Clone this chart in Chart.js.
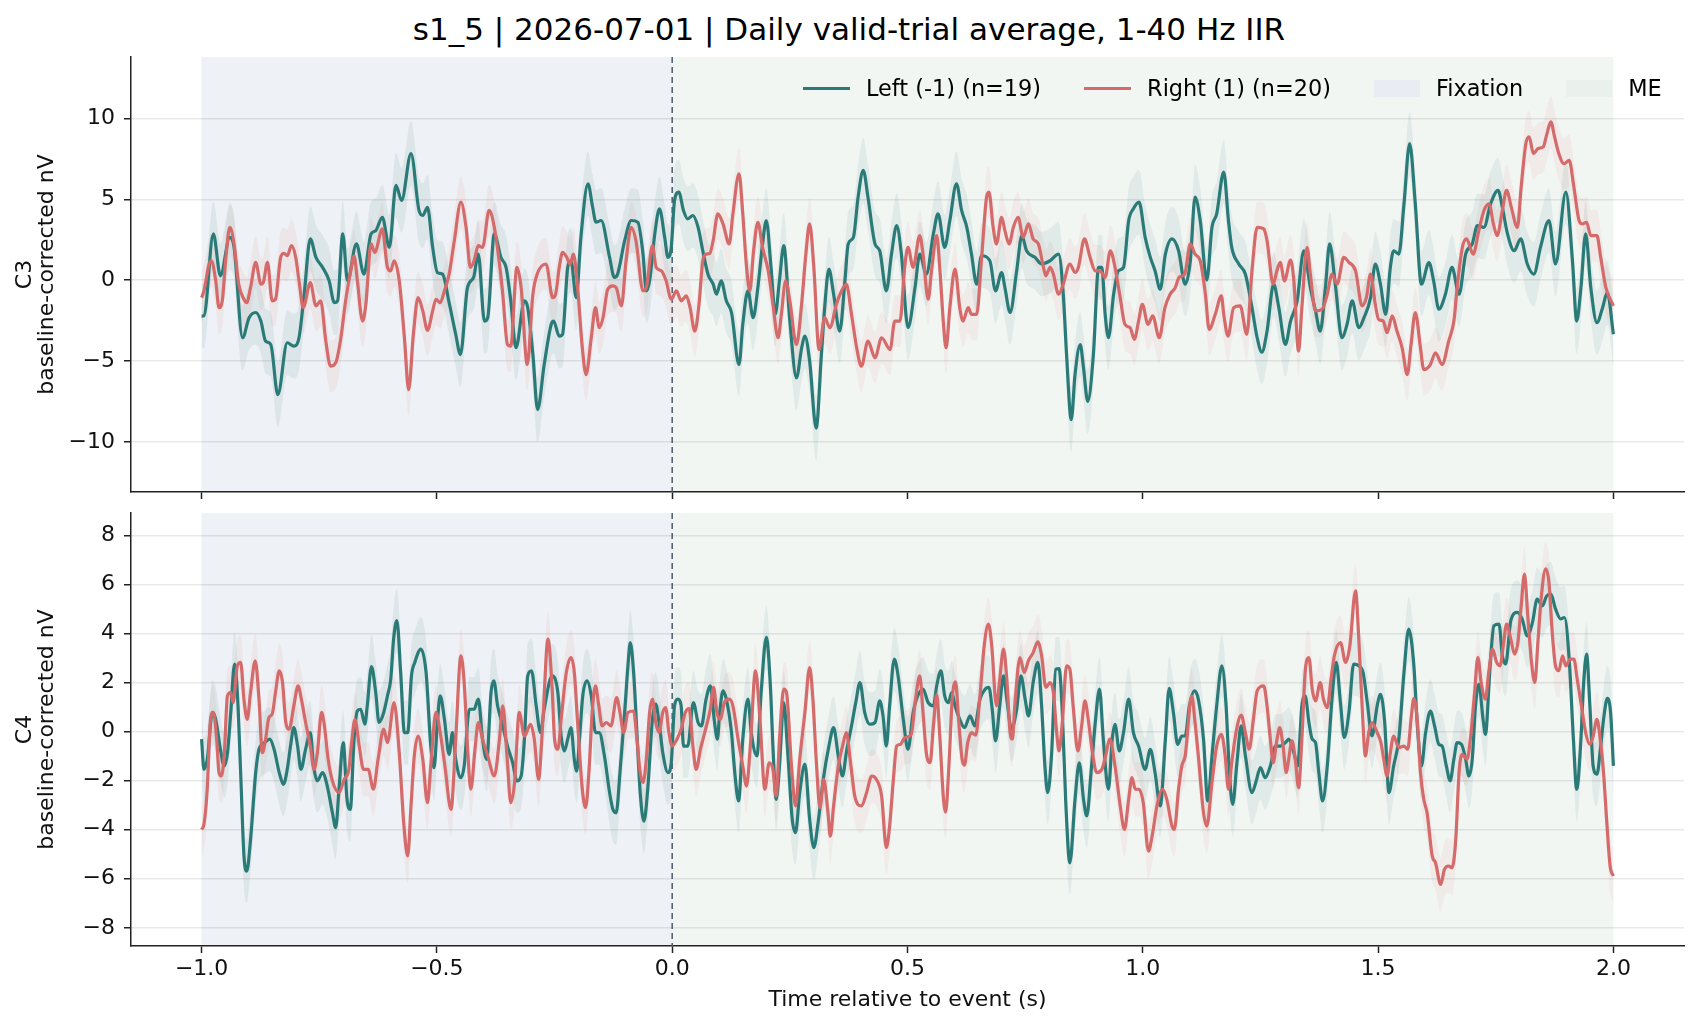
<!DOCTYPE html>
<html>
<head>
<meta charset="utf-8">
<title>s1_5 daily valid-trial average</title>
<script src="https://cdn.jsdelivr.net/npm/chart.js@4.4.1/dist/chart.umd.min.js"></script>
<style>
  html, body { margin: 0; padding: 0; background: #fff; }
  body { width: 1698px; height: 1026px; position: relative; overflow: hidden; font-family: 'DejaVu Sans', sans-serif; }
  #title { position: absolute; left: 0; top: 11px; width: 1698px; text-align: center; font-size: 31px; line-height: 36px; color: #000; }
  canvas { position: absolute; left: 0; }
  #c3 { top: 0; }
  #c4 { top: 488px; }
  #legend { position: absolute; left: 803px; top: 75px; width: max-content; white-space: nowrap; display: flex; align-items: center; font-size: 22.4px; line-height: 26px; color: #000; }
  #legend .item { display: flex; align-items: center; flex-shrink: 0; margin-right: 43px; }
  #legend .item:last-child { margin-right: 0; }
  #legend .line { width: 47px; height: 3px; margin-right: 16px; flex-shrink: 0; }
  #legend .patch { width: 46px; height: 17px; margin-right: 16px; flex-shrink: 0; }
</style>
</head>
<body>
<div id="title">s1_5 | 2026-07-01 | Daily valid-trial average, 1-40 Hz IIR</div>
<canvas id="c3" width="1698" height="515"></canvas>
<canvas id="c4" width="1698" height="538"></canvas>
<div id="legend"></div>
<script>
// ---------------------------------------------------------------------------
// Data: [time (s), amplitude (nV)] per condition/channel
// ---------------------------------------------------------------------------
const seriesLabels = ['Left (-1) (n=19)', 'Right (1) (n=20)'];
const seriesColors = ['#2a7a78', '#d46a6a'];
const bandColors = ['rgba(42, 122, 120, 0.09)', 'rgba(212, 106, 106, 0.08)'];

const spanLabels = ['Fixation', 'ME'];
const spanStart = [-1, 0];
const spanEnd = [0, 2];
const spanFill = ['#eef1f5', '#f2f6f3'];
const spanPatch = ['#e9edf3', '#e8f1ec'];
const eventTime = 0;

// SEM half-width of the shaded bands (nV), per series
const semC3 = [2.0, 1.6];
const semC4 = [1.3, 1.1];

const c3Left = [[-1.0,-2.22],[-0.995,-2.2],[-0.975,2.86],[-0.96,0.27],[-0.94,2.65],[-0.931,2.03],[-0.913,-3.56],[-0.899,-2.32],[-0.885,-2.0],[-0.874,-2.53],[-0.864,-3.77],[-0.853,-3.98],[-0.838,-7.08],[-0.818,-3.87],[-0.804,-4.08],[-0.793,-3.56],[-0.782,-0.87],[-0.769,2.55],[-0.757,1.41],[-0.743,0.79],[-0.729,-0.04],[-0.718,-1.39],[-0.711,-1.28],[-0.7,2.86],[-0.69,-0.04],[-0.671,2.24],[-0.655,0.37],[-0.64,2.86],[-0.63,3.06],[-0.616,3.89],[-0.601,2.03],[-0.587,5.86],[-0.575,4.93],[-0.555,7.83],[-0.538,4.31],[-0.53,4.0],[-0.52,4.51],[-0.509,2.03],[-0.499,0.48],[-0.488,0.37],[-0.474,-1.39],[-0.46,-3.35],[-0.45,-4.6],[-0.435,-0.46],[-0.422,0.17],[-0.412,1.61],[-0.399,-2.53],[-0.392,-2.32],[-0.378,2.86],[-0.364,1.41],[-0.353,0.79],[-0.343,-1.28],[-0.332,-4.18],[-0.314,-1.28],[-0.307,-1.7],[-0.296,-4.6],[-0.286,-8.01],[-0.272,-5.22],[-0.257,-2.73],[-0.252,-2.53],[-0.24,-3.46],[-0.233,-3.35],[-0.222,0.79],[-0.215,1.2],[-0.204,-1.08],[-0.194,2.65],[-0.179,5.96],[-0.169,4.51],[-0.162,3.58],[-0.151,3.69],[-0.133,1.41],[-0.123,0.17],[-0.116,0.37],[-0.101,2.44],[-0.087,3.69],[-0.073,3.58],[-0.062,1.61],[-0.055,-0.66],[-0.048,-0.04],[-0.037,2.86],[-0.027,4.41],[-0.016,2.65],[-0.009,1.41],[-0.002,2.03],[0.005,4.93],[0.014,5.45],[0.024,4.31],[0.033,3.79],[0.044,4.0],[0.055,3.27],[0.065,1.82],[0.076,0.37],[0.087,-0.25],[0.094,-0.87],[0.104,-0.04],[0.115,-1.28],[0.126,-2.0],[0.142,-5.22],[0.15,-2.73],[0.161,-0.66],[0.172,-2.32],[0.182,-0.46],[0.192,2.24],[0.2,3.69],[0.21,0.79],[0.219,-2.1],[0.228,0.0],[0.237,2.13],[0.25,-2.53],[0.264,-6.05],[0.275,-4.2],[0.282,-3.46],[0.292,-5.0],[0.306,-9.15],[0.317,-4.6],[0.324,-1.7],[0.333,0.68],[0.343,-0.87],[0.356,-3.15],[0.367,-0.04],[0.374,2.24],[0.385,2.65],[0.395,5.13],[0.406,6.79],[0.416,5.13],[0.431,2.24],[0.441,1.82],[0.455,-0.66],[0.466,1.61],[0.477,3.37],[0.487,1.61],[0.501,-2.94],[0.516,-0.46],[0.526,1.61],[0.54,0.37],[0.555,2.86],[0.565,4.1],[0.579,2.03],[0.59,3.69],[0.604,5.96],[0.615,4.31],[0.626,3.27],[0.636,1.61],[0.647,-0.25],[0.657,1.51],[0.675,1.2],[0.687,-0.66],[0.7,0.47],[0.707,-0.46],[0.718,-2.0],[0.732,0.58],[0.743,2.75],[0.753,1.82],[0.771,1.41],[0.785,1.0],[0.803,1.2],[0.821,1.61],[0.831,-0.87],[0.838,-4.6],[0.848,-8.63],[0.856,-5.84],[0.867,-3.98],[0.874,-5.42],[0.883,-7.5],[0.895,-4.6],[0.906,0.79],[0.913,0.79],[0.92,-2.11],[0.927,-3.56],[0.938,-0.87],[0.948,0.58],[0.959,0.79],[0.97,3.69],[0.98,4.41],[0.992,4.82],[1.005,2.65],[1.016,1.41],[1.026,0.58],[1.037,-0.56],[1.048,1.61],[1.062,2.55],[1.076,1.82],[1.09,-0.25],[1.101,1.2],[1.111,5.13],[1.122,3.69],[1.136,0.0],[1.147,3.27],[1.157,4.1],[1.172,6.69],[1.182,3.69],[1.189,2.03],[1.204,1.0],[1.218,0.37],[1.232,-1.7],[1.243,-3.56],[1.253,-4.45],[1.264,-3.15],[1.278,-0.25],[1.289,-1.7],[1.303,-3.98],[1.314,-2.53],[1.328,-1.28],[1.342,1.82],[1.356,-0.46],[1.367,-1.9],[1.377,-3.15],[1.388,-0.46],[1.397,2.24],[1.409,-0.25],[1.423,-3.56],[1.434,-2.73],[1.445,-1.28],[1.459,-2.94],[1.47,-2.32],[1.484,-1.08],[1.494,0.99],[1.505,-0.25],[1.516,-2.11],[1.526,0.79],[1.533,1.82],[1.544,1.61],[1.555,4.72],[1.567,8.45],[1.579,4.72],[1.592,-0.25],[1.608,1.09],[1.618,-0.04],[1.629,-1.8],[1.643,-0.87],[1.657,0.79],[1.672,-0.87],[1.686,1.61],[1.7,2.24],[1.711,3.37],[1.725,3.27],[1.739,4.72],[1.755,5.55],[1.764,4.51],[1.775,2.86],[1.789,1.82],[1.803,2.55],[1.817,1.0],[1.831,0.37],[1.845,2.03],[1.863,3.69],[1.877,1.0],[1.899,5.45],[1.913,1.2],[1.922,-2.53],[1.931,-0.46],[1.941,2.86],[1.952,-0.46],[1.965,-2.63],[1.977,-1.7],[1.987,-0.77],[2.0,-3.35]];

const c3Right = [[-1.0,-1.08],[-0.995,-0.66],[-0.984,1.0],[-0.979,1.2],[-0.97,-0.04],[-0.963,-1.7],[-0.956,-1.28],[-0.949,1.2],[-0.94,3.27],[-0.931,2.24],[-0.921,-0.25],[-0.91,-1.18],[-0.904,-1.39],[-0.896,-0.46],[-0.885,1.1],[-0.874,-0.25],[-0.869,-0.15],[-0.86,1.1],[-0.85,-1.28],[-0.843,-1.18],[-0.832,1.41],[-0.825,1.66],[-0.818,1.51],[-0.809,2.13],[-0.8,1.41],[-0.793,-0.04],[-0.784,-1.7],[-0.769,-0.15],[-0.757,-1.59],[-0.747,-1.28],[-0.736,-3.77],[-0.726,-5.32],[-0.715,-5.11],[-0.704,-3.56],[-0.694,-1.28],[-0.683,0.58],[-0.676,1.51],[-0.669,-0.04],[-0.658,-2.53],[-0.651,-1.5],[-0.64,2.24],[-0.632,1.71],[-0.616,3.17],[-0.605,0.79],[-0.598,0.58],[-0.591,1.2],[-0.58,-0.04],[-0.569,-3.56],[-0.56,-6.77],[-0.55,-3.35],[-0.54,-1.08],[-0.53,-1.9],[-0.52,-3.1],[-0.509,-1.9],[-0.502,-1.18],[-0.493,-1.39],[-0.484,-0.66],[-0.474,0.37],[-0.463,2.44],[-0.449,4.82],[-0.438,3.27],[-0.429,0.79],[-0.421,1.2],[-0.412,2.13],[-0.403,2.03],[-0.389,4.31],[-0.378,3.27],[-0.367,0.99],[-0.36,-0.87],[-0.35,-3.98],[-0.343,-4.08],[-0.33,0.79],[-0.321,-0.46],[-0.308,-5.22],[-0.296,-0.87],[-0.287,0.37],[-0.268,1.0],[-0.254,-1.08],[-0.248,-0.9],[-0.24,0.79],[-0.233,1.72],[-0.224,1.41],[-0.217,0.99],[-0.21,1.61],[-0.201,-0.46],[-0.191,-4.18],[-0.183,-5.84],[-0.172,-3.56],[-0.163,-1.7],[-0.155,-2.94],[-0.147,-2.32],[-0.137,-0.56],[-0.126,-0.35],[-0.119,-0.46],[-0.108,-1.59],[-0.098,1.2],[-0.087,3.27],[-0.077,2.44],[-0.062,-0.66],[-0.055,-0.46],[-0.042,2.13],[-0.034,0.79],[-0.023,0.58],[-0.013,-0.04],[-0.002,-1.18],[0.009,-0.66],[0.019,-1.28],[0.03,-0.97],[0.038,-1.7],[0.048,-3.15],[0.057,-1.49],[0.065,1.2],[0.072,1.61],[0.08,1.66],[0.087,2.44],[0.097,4.1],[0.108,3.48],[0.121,2.24],[0.129,4.1],[0.142,6.58],[0.15,4.1],[0.158,0.79],[0.165,-0.66],[0.173,1.82],[0.182,3.58],[0.192,2.03],[0.204,0.58],[0.214,-1.49],[0.225,-3.56],[0.232,-2.11],[0.241,-0.04],[0.25,-1.28],[0.264,-3.98],[0.275,-1.49],[0.284,1.61],[0.292,3.48],[0.301,0.79],[0.312,-4.29],[0.324,-2.32],[0.335,-2.94],[0.349,-1.49],[0.36,-0.66],[0.37,-0.25],[0.381,-2.11],[0.392,-4.18],[0.402,-5.32],[0.416,-3.77],[0.431,-4.8],[0.445,-3.56],[0.463,-4.29],[0.473,-2.53],[0.484,-2.53],[0.494,0.79],[0.501,2.03],[0.512,0.79],[0.526,2.75],[0.533,1.61],[0.544,-1.18],[0.551,0.58],[0.562,2.75],[0.569,0.58],[0.576,-2.53],[0.582,-4.18],[0.59,-1.7],[0.601,0.68],[0.611,-1.7],[0.618,-2.53],[0.629,-1.7],[0.636,-2.11],[0.647,-2.11],[0.657,1.2],[0.668,5.13],[0.673,5.45],[0.682,3.27],[0.689,2.24],[0.7,3.89],[0.707,3.06],[0.716,2.24],[0.725,3.27],[0.735,3.89],[0.746,2.65],[0.757,3.48],[0.767,2.55],[0.778,2.24],[0.789,0.79],[0.794,0.27],[0.803,0.79],[0.81,0.37],[0.821,-0.87],[0.831,-0.25],[0.845,1.0],[0.856,0.48],[0.863,0.79],[0.876,2.55],[0.888,1.41],[0.899,0.58],[0.909,0.58],[0.92,0.17],[0.931,1.82],[0.941,0.79],[0.952,-1.08],[0.962,-2.73],[0.973,-2.94],[0.982,-3.66],[0.991,-2.53],[0.999,-1.49],[1.011,-2.73],[1.021,-2.21],[1.035,-3.56],[1.047,-1.7],[1.058,-0.87],[1.069,-0.46],[1.077,0.17],[1.089,0.37],[1.101,2.24],[1.111,1.61],[1.122,1.2],[1.133,-0.87],[1.141,-3.04],[1.154,-2.11],[1.167,-0.97],[1.172,-2.11],[1.181,-3.46],[1.193,-1.7],[1.207,-1.59],[1.221,-3.35],[1.232,0.58],[1.243,3.27],[1.257,3.17],[1.264,2.44],[1.277,-0.25],[1.285,0.58],[1.292,1.1],[1.301,-0.04],[1.314,1.24],[1.321,-0.04],[1.331,-4.39],[1.338,-1.7],[1.349,2.03],[1.356,0.37],[1.367,-1.9],[1.381,-1.8],[1.392,-0.87],[1.402,0.37],[1.413,-0.25],[1.427,1.41],[1.438,1.1],[1.452,0.58],[1.466,-1.59],[1.475,-1.08],[1.484,0.37],[1.494,-1.49],[1.501,-2.42],[1.511,-2.53],[1.519,-3.25],[1.53,-2.21],[1.54,-3.15],[1.551,-4.18],[1.562,-5.84],[1.57,-3.98],[1.579,-2.0],[1.59,-4.18],[1.597,-5.53],[1.611,-5.22],[1.622,-4.49],[1.636,-5.22],[1.65,-3.77],[1.661,-2.53],[1.668,-0.46],[1.679,2.03],[1.688,2.55],[1.702,1.61],[1.714,3.06],[1.725,4.31],[1.736,4.72],[1.745,3.48],[1.753,2.75],[1.764,4.31],[1.773,5.55],[1.783,4.51],[1.796,3.27],[1.804,5.76],[1.814,8.45],[1.821,8.86],[1.83,7.83],[1.84,8.14],[1.851,8.24],[1.858,8.97],[1.867,9.79],[1.875,8.86],[1.884,7.83],[1.895,7.2],[1.906,7.41],[1.916,5.76],[1.927,3.69],[1.934,3.48],[1.943,3.58],[1.952,2.75],[1.965,2.75],[1.973,1.41],[1.984,-0.46],[2.0,-1.59]];

const c4Left = [[-1.0,-0.31],[-0.995,-1.54],[-0.988,-1.13],[-0.977,0.78],[-0.97,0.5],[-0.96,-0.72],[-0.952,-1.4],[-0.945,-0.86],[-0.938,0.78],[-0.93,2.75],[-0.924,1.59],[-0.917,-1.67],[-0.91,-5.06],[-0.904,-5.69],[-0.896,-4.41],[-0.885,-1.67],[-0.878,-0.72],[-0.866,-0.45],[-0.855,-0.31],[-0.846,-0.72],[-0.835,-1.67],[-0.826,-2.15],[-0.818,-1.54],[-0.811,-0.59],[-0.804,0.16],[-0.796,-0.59],[-0.789,-1.54],[-0.779,-0.72],[-0.769,-0.04],[-0.762,-1.4],[-0.754,-2.01],[-0.743,-1.67],[-0.733,-2.22],[-0.722,-3.31],[-0.715,-3.92],[-0.708,-2.35],[-0.699,-0.45],[-0.691,-2.76],[-0.684,-3.17],[-0.676,-0.31],[-0.669,0.84],[-0.662,0.91],[-0.653,0.3],[-0.648,1.05],[-0.639,2.65],[-0.63,1.59],[-0.623,0.37],[-0.613,0.78],[-0.605,1.46],[-0.598,2.14],[-0.592,3.77],[-0.585,4.52],[-0.577,2.41],[-0.569,-0.04],[-0.562,-0.04],[-0.554,2.27],[-0.547,2.82],[-0.534,3.36],[-0.523,2.41],[-0.513,-0.59],[-0.506,-1.47],[-0.499,0.37],[-0.493,1.46],[-0.484,0.5],[-0.474,-0.93],[-0.467,-0.04],[-0.46,-1.13],[-0.449,-1.88],[-0.442,-1.4],[-0.431,0.91],[-0.421,0.91],[-0.412,1.32],[-0.403,-0.31],[-0.394,-1.13],[-0.385,1.59],[-0.379,2.07],[-0.371,1.05],[-0.36,0.23],[-0.35,-0.59],[-0.339,-1.27],[-0.33,-2.01],[-0.321,-1.81],[-0.314,-0.31],[-0.307,2.27],[-0.299,2.48],[-0.289,1.05],[-0.28,-0.04],[-0.272,0.91],[-0.255,2.27],[-0.243,1.59],[-0.236,-0.18],[-0.229,-0.79],[-0.222,-0.31],[-0.215,0.16],[-0.208,-1.13],[-0.203,-1.61],[-0.197,-0.31],[-0.19,1.46],[-0.181,2.07],[-0.172,1.46],[-0.163,-0.04],[-0.155,-0.04],[-0.144,-0.99],[-0.133,-2.49],[-0.126,-3.17],[-0.119,-3.31],[-0.111,-1.67],[-0.101,0.78],[-0.094,2.68],[-0.089,3.63],[-0.082,2.41],[-0.075,-0.04],[-0.068,-2.49],[-0.06,-3.65],[-0.052,-2.35],[-0.042,0.5],[-0.035,1.12],[-0.027,0.23],[-0.02,-0.86],[-0.009,-1.67],[-0.002,-1.27],[0.005,1.05],[0.012,1.32],[0.019,1.05],[0.024,-0.59],[0.033,-0.59],[0.045,1.18],[0.055,0.37],[0.062,0.23],[0.072,1.32],[0.081,1.86],[0.09,0.37],[0.096,-0.31],[0.101,0.78],[0.108,1.66],[0.115,1.32],[0.126,-0.04],[0.133,-1.67],[0.141,-2.83],[0.15,-0.31],[0.161,1.32],[0.168,-0.04],[0.18,-0.99],[0.189,1.59],[0.2,3.84],[0.209,1.73],[0.214,-0.59],[0.221,-2.76],[0.228,-1.4],[0.237,1.18],[0.246,-0.99],[0.255,-3.56],[0.262,-4.12],[0.271,-2.49],[0.282,-1.33],[0.292,-3.56],[0.301,-4.73],[0.31,-3.71],[0.321,-1.95],[0.333,-0.59],[0.343,0.16],[0.353,-1.0],[0.362,-1.81],[0.37,-0.86],[0.381,0.23],[0.39,1.18],[0.399,2.0],[0.409,0.78],[0.42,0.3],[0.431,0.37],[0.441,1.25],[0.448,0.64],[0.455,-0.59],[0.462,1.05],[0.472,2.95],[0.48,2.27],[0.491,0.5],[0.501,-0.72],[0.512,0.78],[0.519,1.32],[0.533,1.73],[0.544,1.18],[0.555,1.05],[0.562,1.86],[0.571,2.48],[0.579,1.46],[0.587,1.18],[0.594,1.59],[0.601,1.05],[0.611,0.5],[0.621,0.16],[0.633,0.64],[0.643,0.23],[0.654,1.32],[0.665,1.73],[0.673,1.8],[0.68,0.91],[0.687,-0.38],[0.696,1.05],[0.704,2.27],[0.711,1.32],[0.721,0.1],[0.732,0.91],[0.741,2.27],[0.75,1.32],[0.757,0.64],[0.767,2.0],[0.777,2.82],[0.785,1.05],[0.792,-1.41],[0.798,-2.49],[0.806,-0.99],[0.815,2.54],[0.822,2.57],[0.829,0.78],[0.836,-2.76],[0.845,-5.35],[0.856,-2.76],[0.865,-1.27],[0.874,-2.76],[0.881,-3.44],[0.89,-1.67],[0.899,0.37],[0.908,1.73],[0.916,-0.31],[0.927,-2.35],[0.935,-0.31],[0.941,0.3],[0.95,-0.79],[0.959,-0.04],[0.97,1.32],[0.98,-0.04],[0.991,-0.59],[1.005,-1.54],[1.016,-0.72],[1.026,-1.67],[1.037,-3.03],[1.048,-0.31],[1.056,1.76],[1.065,0.78],[1.074,-0.52],[1.083,-0.18],[1.09,-0.18],[1.099,1.05],[1.11,1.66],[1.118,1.32],[1.129,-0.31],[1.138,-2.83],[1.147,-1.0],[1.157,1.05],[1.168,2.68],[1.177,1.05],[1.184,-1.67],[1.191,-2.97],[1.2,-1.27],[1.209,0.23],[1.218,-0.99],[1.232,-2.49],[1.24,-2.08],[1.25,-1.47],[1.26,-1.88],[1.271,-1.4],[1.282,-0.59],[1.292,-0.59],[1.303,-0.45],[1.31,-0.31],[1.321,-0.86],[1.329,-1.4],[1.338,1.05],[1.345,1.46],[1.353,0.37],[1.36,-0.31],[1.367,-0.45],[1.374,-1.67],[1.382,-2.83],[1.392,-1.4],[1.402,1.32],[1.411,2.82],[1.42,1.18],[1.428,-0.24],[1.438,0.78],[1.448,2.75],[1.459,2.68],[1.468,2.41],[1.477,1.18],[1.487,-0.18],[1.498,1.05],[1.505,1.52],[1.514,0.37],[1.523,-2.49],[1.533,-1.4],[1.544,-0.31],[1.555,2.41],[1.565,4.18],[1.576,2.68],[1.583,0.37],[1.592,-1.4],[1.601,-0.04],[1.611,0.84],[1.62,0.23],[1.629,-0.52],[1.636,-0.59],[1.645,-1.4],[1.653,-2.01],[1.661,-1.13],[1.668,-0.45],[1.677,-0.52],[1.686,-1.13],[1.693,-1.81],[1.7,-1.13],[1.707,1.05],[1.714,1.93],[1.723,0.5],[1.728,-0.11],[1.738,2.68],[1.746,4.31],[1.757,4.38],[1.764,3.09],[1.771,2.75],[1.782,4.52],[1.796,4.86],[1.806,4.59],[1.817,3.9],[1.828,4.45],[1.838,5.4],[1.849,5.12],[1.858,5.52],[1.867,5.6],[1.877,5.0],[1.888,4.59],[1.896,4.65],[1.906,2.95],[1.915,-0.31],[1.922,-2.35],[1.931,-0.31],[1.936,1.73],[1.943,3.16],[1.95,1.05],[1.957,-1.4],[1.965,-1.74],[1.973,-0.59],[1.98,0.64],[1.987,1.35],[1.994,0.78],[2.0,-1.4]];

const c4Right = [[-1.0,-3.99],[-0.995,-3.78],[-0.988,-2.35],[-0.981,0.5],[-0.975,0.78],[-0.968,-0.31],[-0.963,-1.67],[-0.958,-1.81],[-0.952,-0.99],[-0.945,1.46],[-0.938,1.59],[-0.933,1.18],[-0.924,2.68],[-0.917,2.82],[-0.91,1.32],[-0.903,0.5],[-0.896,1.59],[-0.886,2.88],[-0.878,1.32],[-0.871,-0.86],[-0.864,-0.31],[-0.857,0.57],[-0.85,0.71],[-0.843,1.59],[-0.835,2.48],[-0.828,2.0],[-0.821,0.37],[-0.814,0.1],[-0.804,1.05],[-0.795,1.86],[-0.788,1.32],[-0.779,0.37],[-0.769,-0.59],[-0.761,-1.54],[-0.754,-0.86],[-0.745,0.78],[-0.74,0.37],[-0.731,-1.13],[-0.722,-2.01],[-0.708,-2.49],[-0.697,-1.95],[-0.687,-1.54],[-0.682,-0.59],[-0.674,0.5],[-0.665,-0.59],[-0.656,-1.54],[-0.646,-1.54],[-0.635,-2.35],[-0.625,-1.13],[-0.613,0.1],[-0.605,-0.45],[-0.591,1.18],[-0.58,-0.86],[-0.57,-3.85],[-0.562,-5.07],[-0.555,-3.03],[-0.548,-0.99],[-0.54,-0.18],[-0.53,-1.13],[-0.52,-2.9],[-0.513,-1.4],[-0.502,0.78],[-0.493,-0.04],[-0.483,-1.4],[-0.47,-3.17],[-0.46,-0.31],[-0.449,3.09],[-0.442,2.0],[-0.435,-0.59],[-0.428,-2.35],[-0.419,-0.72],[-0.412,0.37],[-0.403,-0.31],[-0.392,-0.99],[-0.378,-1.81],[-0.367,-0.31],[-0.36,1.05],[-0.351,-0.99],[-0.343,-2.9],[-0.335,-2.08],[-0.325,0.78],[-0.314,-0.18],[-0.301,0.3],[-0.293,-0.31],[-0.284,-1.95],[-0.275,0.37],[-0.264,3.77],[-0.255,1.73],[-0.25,-0.31],[-0.243,-0.72],[-0.236,0.5],[-0.225,2.41],[-0.215,3.02],[-0.208,2.41],[-0.201,0.37],[-0.191,-2.35],[-0.184,-3.1],[-0.177,-1.67],[-0.17,0.78],[-0.163,1.86],[-0.156,1.05],[-0.149,0.23],[-0.14,0.37],[-0.13,0.23],[-0.118,1.39],[-0.111,0.78],[-0.103,-0.04],[-0.094,0.78],[-0.082,0.84],[-0.075,-0.31],[-0.068,-1.67],[-0.062,-2.08],[-0.055,-1.13],[-0.048,0.78],[-0.042,1.32],[-0.035,0.37],[-0.028,-0.04],[-0.02,0.78],[-0.014,0.98],[-0.007,-0.04],[0.0,-0.59],[0.01,-0.31],[0.019,0.1],[0.028,0.78],[0.036,0.94],[0.044,-0.59],[0.051,-1.54],[0.06,-0.72],[0.071,0.1],[0.081,0.91],[0.088,1.8],[0.095,0.78],[0.102,0.5],[0.111,1.18],[0.121,1.32],[0.129,1.05],[0.14,-0.31],[0.15,-1.4],[0.158,-2.22],[0.166,-0.59],[0.177,2.48],[0.186,0.64],[0.197,-2.35],[0.206,-1.27],[0.214,-1.54],[0.221,-2.63],[0.228,-0.31],[0.237,1.73],[0.243,1.59],[0.253,-1.27],[0.262,-3.03],[0.271,-1.13],[0.282,0.78],[0.292,2.61],[0.299,1.32],[0.306,-1.13],[0.314,-3.1],[0.322,-1.95],[0.331,-3.31],[0.336,-4.26],[0.343,-3.03],[0.353,-1.4],[0.362,-0.59],[0.37,-0.04],[0.379,-1.27],[0.388,-2.63],[0.402,-3.03],[0.413,-2.49],[0.424,-1.81],[0.434,-1.95],[0.445,-2.63],[0.455,-4.73],[0.462,-3.85],[0.47,-1.95],[0.477,-0.59],[0.485,-0.52],[0.494,-0.25],[0.508,-0.11],[0.517,1.32],[0.526,2.27],[0.533,0.78],[0.54,-0.86],[0.548,-1.27],[0.555,0.23],[0.562,1.52],[0.569,-0.31],[0.576,-2.63],[0.581,-3.28],[0.588,-1.4],[0.595,1.32],[0.602,2.03],[0.609,0.37],[0.616,-1.13],[0.621,-1.37],[0.628,-0.45],[0.636,-0.04],[0.645,-0.15],[0.654,1.46],[0.663,3.5],[0.672,4.38],[0.679,3.5],[0.689,1.05],[0.696,2.14],[0.704,3.36],[0.711,2.14],[0.718,-0.04],[0.723,-0.31],[0.728,1.05],[0.739,3.02],[0.748,2.41],[0.757,2.89],[0.767,3.22],[0.777,3.66],[0.785,3.09],[0.794,1.8],[0.803,2.0],[0.81,1.59],[0.817,-0.04],[0.822,-0.79],[0.829,0.37],[0.838,2.68],[0.845,2.54],[0.852,1.05],[0.862,-0.79],[0.87,0.23],[0.877,1.25],[0.884,0.5],[0.893,-0.86],[0.902,-1.67],[0.913,-1.54],[0.921,-0.99],[0.93,-0.31],[0.941,-1.4],[0.952,-3.03],[0.961,-3.99],[0.97,-2.76],[0.977,-1.88],[0.984,-2.35],[0.992,-2.35],[1.001,-2.9],[1.012,-4.87],[1.021,-4.12],[1.03,-3.03],[1.042,-2.35],[1.051,-2.76],[1.062,-3.85],[1.067,-3.99],[1.076,-2.35],[1.083,-1.4],[1.09,-0.99],[1.104,1.46],[1.111,0.37],[1.118,-0.99],[1.129,-3.31],[1.136,-3.85],[1.147,-2.08],[1.157,-0.59],[1.167,-0.11],[1.175,-0.99],[1.182,-2.35],[1.189,-1.27],[1.198,-0.04],[1.209,0.67],[1.218,-0.04],[1.226,-0.72],[1.235,0.5],[1.243,1.66],[1.257,1.86],[1.264,1.05],[1.271,-0.31],[1.277,-1.27],[1.284,-0.45],[1.291,0.16],[1.298,-0.59],[1.305,-1.67],[1.31,-1.13],[1.317,-0.38],[1.324,-1.13],[1.331,-2.29],[1.338,-0.31],[1.345,2.41],[1.353,3.02],[1.36,1.73],[1.367,1.25],[1.377,2.0],[1.384,1.32],[1.392,0.98],[1.4,2.14],[1.407,3.09],[1.42,3.63],[1.431,2.82],[1.44,3.5],[1.452,5.74],[1.459,3.77],[1.466,1.05],[1.473,-0.99],[1.48,-0.04],[1.487,0.37],[1.498,-0.04],[1.506,-0.45],[1.512,-1.13],[1.519,-1.81],[1.526,-0.86],[1.533,-0.18],[1.544,-0.65],[1.555,-0.59],[1.563,-0.72],[1.57,0.5],[1.576,1.35],[1.583,0.5],[1.59,-1.67],[1.597,-2.76],[1.604,-3.31],[1.615,-5.07],[1.622,-5.35],[1.633,-6.23],[1.641,-5.62],[1.65,-5.48],[1.657,-5.55],[1.665,-4.4],[1.672,-1.67],[1.679,-0.93],[1.689,-1.13],[1.696,-0.31],[1.705,1.59],[1.712,3.02],[1.719,2.0],[1.728,1.32],[1.735,2.41],[1.743,3.36],[1.752,2.82],[1.759,2.68],[1.766,3.5],[1.773,4.38],[1.782,3.77],[1.79,3.16],[1.797,3.63],[1.804,5.12],[1.811,6.42],[1.818,4.72],[1.826,2.82],[1.833,2.0],[1.84,3.77],[1.847,5.53],[1.856,6.63],[1.863,6.08],[1.87,4.04],[1.877,2.68],[1.884,2.48],[1.892,3.09],[1.899,2.68],[1.908,2.95],[1.916,2.95],[1.923,2.14],[1.932,1.05],[1.941,-0.04],[1.95,-0.52],[1.957,-0.18],[1.965,0.5],[1.972,-0.31],[1.979,-1.67],[1.986,-3.71],[1.993,-5.48],[2.0,-5.89]];

// axis setup
const xRange = [-1.15, 2.15];
const xStep = 0.5;
const c3Range = [-13.1, 13.8];
const c3Step = 5;
const c4Range = [-8.74, 8.91];
const c4Step = 2;
const xTitle = 'Time relative to event (s)';

// ---------------------------------------------------------------------------
const FONT = 'DejaVu Sans';
const INK = '#111';
Chart.defaults.font.family = FONT;
Chart.defaults.color = INK;

const minus = s => s.replace('-', '\u2212');
const fmtX = v => minus(Number(v).toFixed(1));
const fmtY = v => minus(String(Math.round(v)));

const toPoints = (rows, d = 0) => rows.map(([x, y]) => ({ x, y: y + d }));

// shaded epochs + dashed event marker
const epochPlugin = {
  id: 'epochs',
  beforeDraw(chart) {
    const { ctx, chartArea: a, scales: { x } } = chart;
    ctx.save();
    spanLabels.forEach((_, i) => {
      const x0 = x.getPixelForValue(spanStart[i]);
      const x1 = x.getPixelForValue(spanEnd[i]);
      ctx.fillStyle = spanFill[i];
      ctx.fillRect(x0, a.top, x1 - x0, a.bottom - a.top);
    });
    ctx.restore();
  },
  beforeDatasetsDraw(chart) {
    const { ctx, chartArea: a, scales: { x } } = chart;
    const px = x.getPixelForValue(eventTime);
    ctx.save();
    ctx.strokeStyle = '#4b5a6a';
    ctx.lineWidth = 1.5;
    ctx.setLineDash([6, 4]);
    ctx.beginPath();
    ctx.moveTo(px, a.top);
    ctx.lineTo(px, a.bottom);
    ctx.stroke();
    ctx.restore();
  }
};

function makePanel(canvasId, p) {
  const datasets = [];
  // SEM bands (upper, then lower filled to upper)
  p.series.forEach((rows, i) => {
    datasets.push({
      data: toPoints(rows, p.sem[i]),
      borderColor: 'transparent', borderWidth: 0, pointRadius: 0,
      fill: false, cubicInterpolationMode: 'monotone', order: 4 - i
    });
    datasets.push({
      data: toPoints(rows, -p.sem[i]),
      borderColor: 'transparent', borderWidth: 0, pointRadius: 0,
      fill: '-1', backgroundColor: bandColors[i],
      cubicInterpolationMode: 'monotone', order: 4 - i
    });
  });
  // mean traces, Right drawn on top
  p.series.forEach((rows, i) => {
    datasets.push({
      label: seriesLabels[i],
      data: toPoints(rows),
      borderColor: seriesColors[i], borderWidth: 3.2, pointRadius: 0,
      fill: false, cubicInterpolationMode: 'monotone', order: 1 - i
    });
  });

  const tickFont = { family: FONT, size: 22 };
  const spine = { display: true, color: '#222', width: 1.5 };

  return new Chart(document.getElementById(canvasId), {
    type: 'line',
    data: { datasets },
    options: {
      responsive: false,
      animation: false,
      devicePixelRatio: 1,
      events: [],
      parsing: false,
      layout: { padding: { top: p.padTop, right: 14, bottom: 0, left: 0 } },
      plugins: { legend: { display: false }, tooltip: { enabled: false } },
      scales: {
        x: {
          type: 'linear',
          min: xRange[0], max: xRange[1],
          ticks: {
            stepSize: xStep, includeBounds: false, autoSkip: false, maxRotation: 0,
            display: p.showX, callback: fmtX, font: tickFont, color: INK, padding: 3
          },
          grid: { drawOnChartArea: false, tickLength: 7, tickColor: '#222', tickWidth: 1.5 },
          border: spine,
          title: {
            display: p.showX, text: xTitle, color: INK,
            font: { family: FONT, size: 22 }, padding: { top: 4, bottom: 13 }
          },
          afterFit: s => { s.height = p.xHeight; }
        },
        y: {
          min: p.range[0], max: p.range[1],
          ticks: {
            stepSize: p.step, includeBounds: false, callback: fmtY,
            font: tickFont, color: INK, padding: 9
          },
          grid: {
            color: 'rgba(0, 0, 0, 0.085)', lineWidth: 1.5,
            tickLength: 7, tickColor: '#222', tickWidth: 1.5
          },
          border: spine,
          title: {
            display: true, text: [p.channel, 'baseline-corrected nV'], color: INK,
            font: { family: FONT, size: 22, lineHeight: 1.0 }, padding: { top: 14, bottom: 0 }
          },
          afterFit: s => { s.width = 131; }
        }
      }
    },
    plugins: [epochPlugin]
  });
}

// top panel: canvas 0..515, plot area 57..492; bottom panel: canvas 488..1026, plot area 513..946
makePanel('c3', { channel: 'C3', series: [c3Left, c3Right], sem: semC3, range: c3Range, step: c3Step, padTop: 57, xHeight: 23, showX: false });
makePanel('c4', { channel: 'C4', series: [c4Left, c4Right], sem: semC4, range: c4Range, step: c4Step, padTop: 25, xHeight: 80, showX: true });

// legend (top panel, upper right, no frame)
const legend = document.getElementById('legend');
seriesLabels.forEach((label, i) => {
  legend.insertAdjacentHTML('beforeend',
    `<div class="item"><span class="line" style="background:${seriesColors[i]}"></span><span>${label}</span></div>`);
});
spanLabels.forEach((label, i) => {
  legend.insertAdjacentHTML('beforeend',
    `<div class="item"><span class="patch" style="background:${spanPatch[i]}"></span><span>${label}</span></div>`);
});
</script>
</body>
</html>
